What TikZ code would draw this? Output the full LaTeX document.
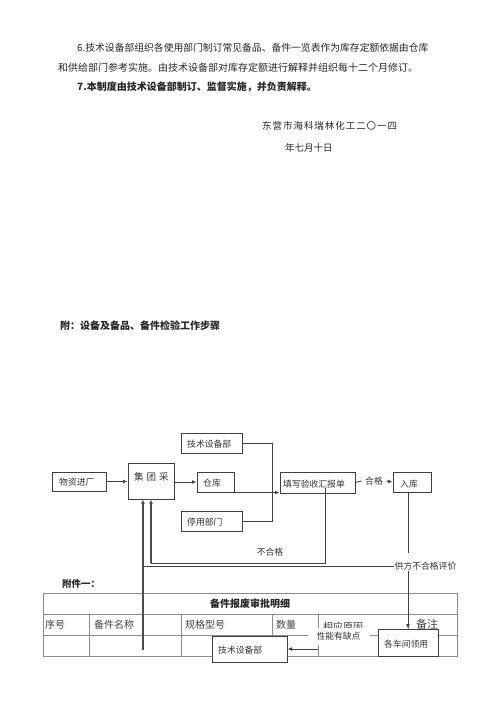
\documentclass[tikz,border=0pt]{standalone}
\usepackage{fontspec}
\setmainfont{Noto Sans CJK SC}
\newfontfamily\spacedfont[LetterSpace=10]{Noto Sans CJK SC}
\usetikzlibrary{arrows.meta}
\begin{document}
\begin{tikzpicture}[x=1pt,y=-1pt,
  txt/.style={inner sep=0pt, anchor=west, text=black!85},
  body/.style={font=\fontsize{10}{12}\selectfont},
  fl/.style={font=\fontsize{8.8}{10}\selectfont, inner sep=0pt, anchor=west, text=black!80},
  box/.style={draw=black!75, line width=0.9pt, fill=white, inner sep=0pt},
  ln/.style={draw=black!75, line width=0.9pt},
  thk/.style={draw=black!70, line width=1.4pt},
  arr/.style={-{Latex[length=4.5pt,width=3.8pt]}},
  tab/.style={draw=black!45, line width=0.7pt},
  th/.style={font=\fontsize{10}{12}\selectfont, inner sep=0pt, anchor=west, text=black!75}]
\useasboundingbox (0,0) rectangle (500,707);

% ---- text of the page ----
\node[txt, font=\fontsize{9.8}{12}\selectfont] (l1) at (77,48) {6.技术设备部组织各使用部门制订常见备品、备件一览表作为库存定额依据由仓库};
\node[txt, body] (l2) at (58,68) {和供给部门参考实施。由技术设备部对库存定额进行解释并组织每十二个月修订。};
\node[txt, font=\bfseries\fontsize{10}{12}\selectfont] (l3) at (77,87) {7.本制度由技术设备部制订、监督实施，并负责解释。};
\node[txt, font=\spacedfont\fontsize{9.5}{11}\selectfont] (d1) at (262,126) {东营市海科瑞林化工二〇一四};
\node[txt, font=\fontsize{9.5}{11}\selectfont] (d2) at (285,148) {年七月十日};
\node[txt, font=\bfseries\fontsize{10}{12}\selectfont] (fu) at (60,326) {附：设备及备品、备件检验工作步骤};
\node[txt, font=\bfseries\fontsize{9.5}{11}\selectfont] (fj) at (62,584) {附件一：};

% ---- table ----
\draw[tab] (43,593) rectangle (457,656);
\draw[tab] (43,614) -- (457,614);
\draw[tab] (43,635) -- (457,635);
\foreach \cx in {89,181,272,318,408} {\draw[tab] (\cx,614) -- (\cx,656);}
\node[font=\bfseries\fontsize{10}{12}\selectfont, text=black!85, inner sep=0pt] (tt) at (250,603.5) {备件报废审批明细};
\node[th] (h1) at (45,624.5) {序号};
\node[th] (h2) at (94,624.5) {备件名称};
\node[th] (h3) at (185,624.5) {规格型号};
\node[th] (h4) at (276,624.5) {数量};
\node[th] (h5) at (323,627) {相应原因};
\node[th, font=\fontsize{11}{12}\selectfont] (h6) at (416,624.5) {备注};

% ---- flowchart boxes ----
\node[box, minimum width=54pt, minimum height=19pt] (wuzi) at (79,481.5) {};
\node[fl] (wuzit) at (59,482) {物资进厂};
\node[box, minimum width=46pt, minimum height=36pt] (jituan) at (151,481) {};
\node[fl, font=\fontsize{9.5}{11}\selectfont] (jituant) at (134,477) {集\hspace{3pt}团\hspace{3pt}采};
\node[box, minimum width=37pt, minimum height=20pt] (cangku) at (215.5,482) {};
\node[fl] (cangkut) at (203,483) {仓库};
\node[box, minimum width=61pt, minimum height=20pt] (jishu1) at (211.5,443) {};
\node[fl] (jishu1t) at (187,444) {技术设备部};
\node[box, minimum width=61pt, minimum height=20pt] (tingyong) at (211.5,521) {};
\node[fl] (tingyongt) at (187,522) {停用部门};
\node[box, minimum width=75pt, minimum height=21pt] (tianxie) at (317.5,482.5) {};
\node[fl] (tianxiet) at (283,484) {填写验收汇报单};
\node[box, minimum width=38pt, minimum height=20pt] (ruku) at (412,482) {};
\node[fl] (rukut) at (400,484) {入库};

% ---- flowchart connectors ----
\coordinate (bus) at (272,493);
\coordinate (v1b) at (143,650);
\coordinate (c1) at (325,563);
\coordinate (c2) at (151,563);
\coordinate (r1) at (408,553);
\coordinate (q1) at (318,649);

\draw[ln, arr] (wuzi.east) -- (jituan.west |- wuzi.east);
\draw[ln, arr] (jituan.east |- cangku.west) -- (cangku.west);
\draw[ln] (jishu1.east) -| (bus);
\draw[ln] (tingyong.east) -| (bus);
\draw[ln, arr] (cangku.south east) -- (tianxie.west |- cangku.south east);

\node[fl, anchor=center, inner xsep=3.5pt] (hege) at (374,481) {合格};
\draw[ln] (tianxie.east) -- (hege.west);
\draw[ln, arr] (hege.east) -- (ruku.west);

\draw[ln] ([yshift=5pt]tianxie.south -| c1) -- (c1) -- (c2);
\draw[thk, arr] (c2) -- (c2 |- jituan.south);
\node[fl, anchor=center] (buhege) at (270,552) {不合格};

\draw[ln] (ruku.south -| r1) -- (r1);
\node[fl, anchor=center, inner sep=1pt] (gf) at (425.5,566) {供方不合格评价};
\draw[ln] (gf.west) -- (v1b |- gf.west);
\draw[thk, arr] (v1b) -- (v1b |- jituan.south);

\node[fl, anchor=center, fill=white, inner xsep=9pt, inner ysep=4.5pt] (xn) at (338.5,636.5) {性能有缺点};

\node[box, minimum width=60pt, minimum height=27pt] (chejian) at (408,642.5) {};
\node[fl] (chejiant) at (384,644) {各车间领用};
\draw[ln, arr] (gf.south -| chejian.north) -- (chejian.north);

\node[box, minimum width=75pt, minimum height=26pt] (jishu2) at (249.5,649) {};
\node[fl] (jishu2t) at (218,650) {技术设备部};
\draw[ln, arr] (q1) -- (jishu2.east);
\end{tikzpicture}
\end{document}
